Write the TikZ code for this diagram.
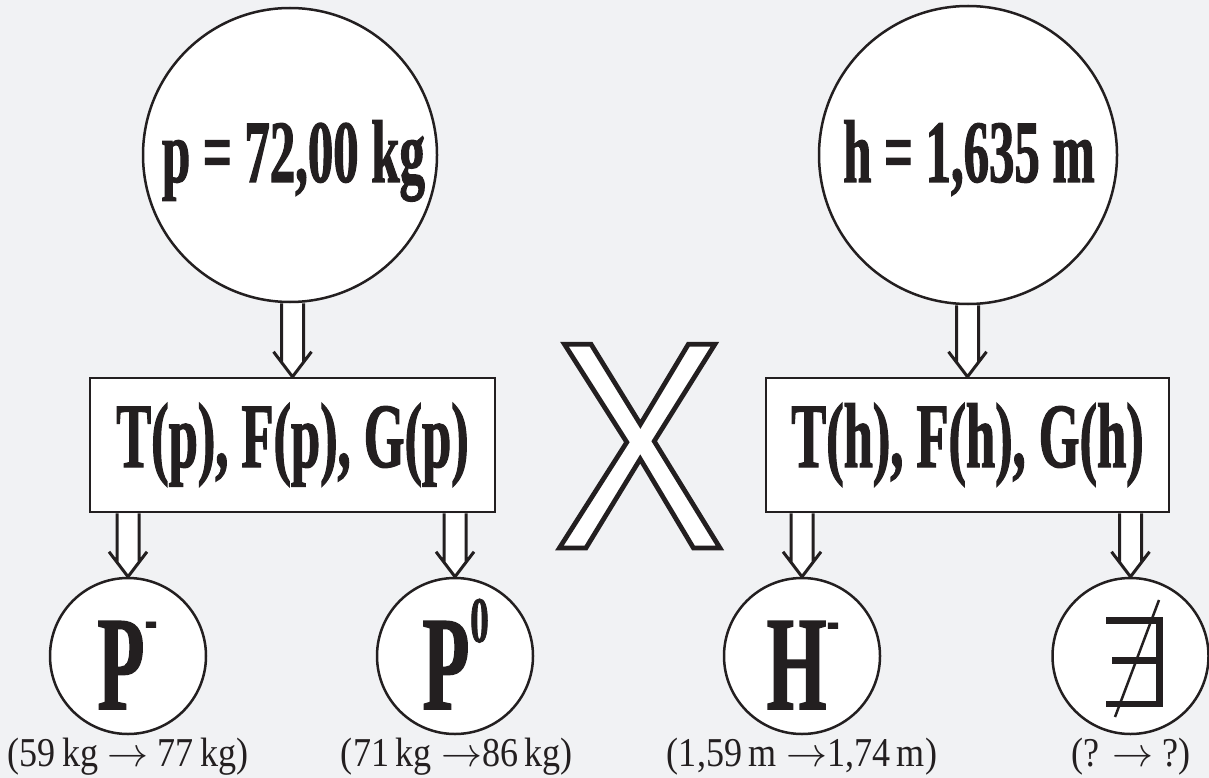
\RequirePackage{fix-cm}
\documentclass[tikz,border=0pt]{standalone}
\usepackage{fontspec}
\usetikzlibrary{calc}
\newfontfamily\condb{Liberation Serif}[FakeStretch=0.57,FakeBold=1.2]
\newfontfamily\condr{Liberation Serif}[FakeStretch=0.88]
\newfontfamily\xsans{Liberation Sans}[FakeStretch=0.87,FakeBold=1.6]
\definecolor{ink}{RGB}{35,31,32}
\definecolor{bg}{RGB}{241,242,244}
\pgfdeclarelayer{back}
\pgfdeclarelayer{arrowlayer}
\pgfsetlayers{back,arrowlayer,main}
\newcommand{\hollowarr}[2]{%
  \fill[white] let \p1=(#1), \p2=(#2) in
    (\x2-11pt,\y1) -- (\x2-11pt,\y2+14.5pt) -- (\x2,\y2) -- (\x2+11pt,\y2+14.5pt) -- (\x2+11pt,\y1) -- cycle;
  \draw[ink, line width=3pt, line join=miter] let \p1=(#1), \p2=(#2) in
    (\x2-11pt,\y1) -- (\x2-11pt,\y2+14.5pt)
    (\x2+11pt,\y1) -- (\x2+11pt,\y2+14.5pt)
    (\x2-19pt,\y2+25pt) -- (\x2,\y2) -- (\x2+19pt,\y2+25pt);
}
\tikzset{
  ringnode/.style={circle, draw=ink, fill=white, line width=2.5pt, inner sep=0pt},
  boxnode/.style={rectangle, draw=ink, fill=white, line width=2.5pt, inner sep=0pt},
  bigtext/.style={anchor=base, inner sep=0pt, text=ink, font=\condb\bfseries\fontsize{89}{89}\selectfont},
  boxtext/.style={anchor=base, inner sep=0pt, text=ink, font=\condb\bfseries\fontsize{92}{92}\selectfont},
  lettext/.style={anchor=base, inner sep=0pt, text=ink, text depth=0pt, font=\condb\bfseries\fontsize{134}{134}\selectfont},
  suptext/.style={anchor=base, inner sep=0pt, text=ink, text depth=0pt, font=\condb\bfseries\fontsize{65}{65}\selectfont},
  labtext/.style={anchor=base, inner sep=0pt, text=ink, font=\condr\fontsize{41}{41}\selectfont},
  bar/.style={fill=ink},
}
\begin{document}
\begin{tikzpicture}[x=1pt,y=-1pt]
\begin{pgfonlayer}{back}
\fill[bg] (0,0) rectangle (1209,778);
\end{pgfonlayer}
\useasboundingbox (0,0) rectangle (1209,778);

% top circles
\node[ringnode, minimum size=294pt] (cp) at (290,155) {};
\node[ringnode, minimum size=298pt] (ch) at (968,155) {};
\node[bigtext] (tp) at (293.5,182) {p = 72,00 kg};
\node[bigtext] (th) at (969,182) {h = 1,635 m};

% boxes
\node[boxnode, minimum width=405pt, minimum height=134pt] (bp) at (292.5,445) {};
\node[boxnode, minimum width=403pt, minimum height=134pt] (bh) at (967.5,445) {};
\node[boxtext] (tbp) at (292.5,467) {T(p), F(p), G(p)};
\node[boxtext] (tbh) at (967.5,467) {T(h), F(h), G(h)};

% big X (outlined letter)
\node[anchor=base, inner sep=0pt, font=\xsans\fontsize{296}{296}\selectfont] (bigx) at (639.5,548)
  {\color{ink}\special{pdf:literal direct 1 1 1 rg}X};

% small circles
\node[ringnode, minimum size=156pt] (cP1) at (128,656) {};
\node[ringnode, minimum size=156pt] (cP2) at (455,656) {};
\node[ringnode, minimum size=156pt] (cH1) at (802,656) {};
\node[ringnode, minimum size=156pt] (cE) at (1130.5,656) {};

\node[lettext] (lP1) at (121,709) {P};
\node[suptext] (sP1) at (151,640) {-};
\node[lettext] (lP2) at (446,709) {P};
\node[suptext] (sP2) at (479.5,642) {0};
\node[lettext] (lH1) at (796.5,709) {H};
\node[suptext] (sH1) at (833,641) {-};

% not-exists symbol
\fill[bar] (1106,617) rectangle (1163,624);
\fill[bar] (1112,657) rectangle (1163,664);
\fill[bar] (1106,700.5) rectangle (1163,707);
\fill[bar] (1156,617) rectangle (1163,707);
\draw[ink, line width=2.5pt] (1159,600) -- (1115,717);

% labels
\node[labtext] (l1) at (128,766) {(59\,kg $\rightarrow$ 77\,kg)};
\node[labtext] (l2) at (457,766) {(71\,kg $\rightarrow$86\,kg)};
\node[labtext] (l3) at (802,766) {(1,59\,m $\rightarrow$1,74\,m)};
\node[labtext] (l4) at (1131,766) {(? $\rightarrow$ ?)};

% arrows
\begin{pgfonlayer}{arrowlayer}
\hollowarr{cp.south -| bp.north}{bp.north}
\hollowarr{ch.south -| bh.north}{bh.north}
\hollowarr{bp.south -| cP1.north}{cP1.north}
\hollowarr{bp.south -| cP2.north}{cP2.north}
\hollowarr{bh.south -| cH1.north}{cH1.north}
\hollowarr{bh.south -| cE.north}{cE.north}
\end{pgfonlayer}
\end{tikzpicture}
\end{document}
